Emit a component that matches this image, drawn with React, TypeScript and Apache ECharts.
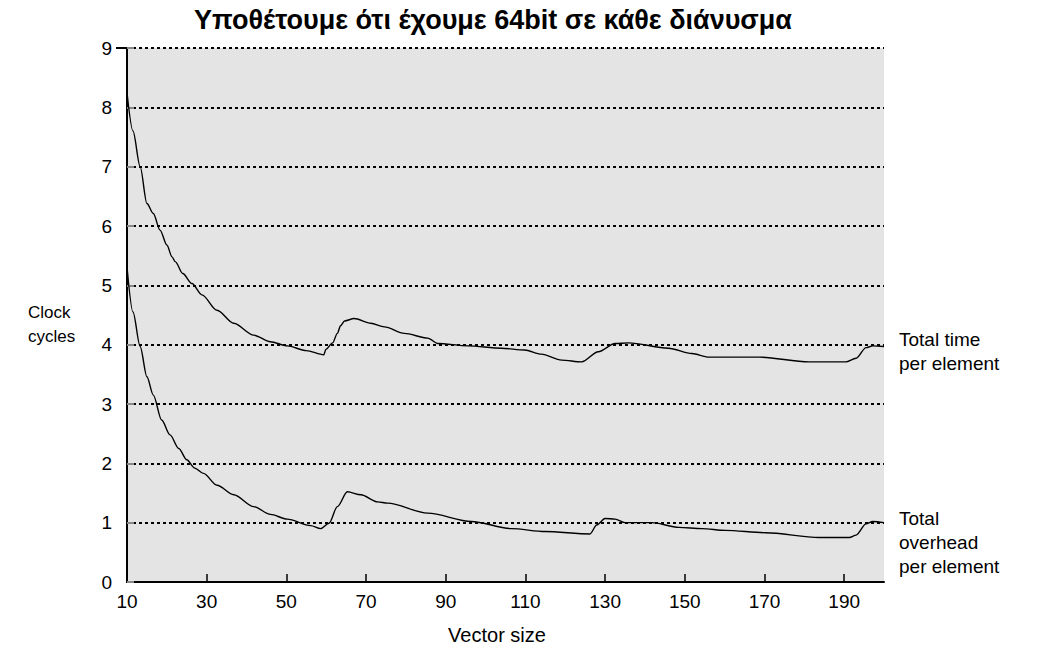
import React, { useEffect, useRef } from "react";
import * as echarts from "echarts";

const titleText = "Υποθέτουμε ότι έχουμε 64bit σε κάθε διάνυσμα";
const xName = "Vector size";
const yName = "Clock\ncycles";
const topLabel = "Total time\nper element";
const bottomLabel = "Total\noverhead\nper element";

const xLabelValues = [10, 30, 50, 70, 90, 110, 130, 150, 170, 190];
const xTickValues = [30, 50, 70, 90, 110, 130, 150, 170, 190];

const totalTime: [number, number][] = [
  [10, 8.25], [11.5, 7.6], [13.3, 7.0], [15.0, 6.38], [16.6, 6.21], [18.3, 5.93],
  [20, 5.68], [21.3, 5.48], [22.1, 5.4], [24, 5.2], [26.3, 5.03], [28.8, 4.84],
  [32.6, 4.58], [36.8, 4.36], [41.8, 4.16], [46, 4.05], [50.2, 3.98], [55, 3.9],
  [59.4, 3.83], [59.9, 3.92], [61.6, 4.03], [62.8, 4.19], [63.6, 4.32], [64.6, 4.4],
  [67, 4.44], [71.2, 4.36], [74.6, 4.3], [79.6, 4.19], [85.5, 4.11], [88, 4.02],
  [95.6, 3.98], [104, 3.94], [109.8, 3.91], [114, 3.84], [119.1, 3.74], [124.1, 3.71],
  [128.3, 3.88], [132.5, 4.02], [135.9, 4.03], [145.9, 3.94], [151.8, 3.85], [156, 3.79],
  [168.6, 3.79], [181.2, 3.71], [190.4, 3.71], [193, 3.77], [195.5, 3.95], [197.2, 3.98],
  [200, 3.97],
];

const totalOverhead: [number, number][] = [
  [10, 5.31], [11.5, 4.55], [13.3, 3.97], [15, 3.46], [16.6, 3.15], [18.7, 2.73],
  [20.8, 2.48], [23, 2.25], [25, 2.06], [27, 1.92], [29.2, 1.83], [32.6, 1.63],
  [36.8, 1.47], [41.8, 1.27], [46, 1.14], [50.2, 1.06], [56.1, 0.95], [58.6, 0.9],
  [60.7, 0.99], [62.8, 1.27], [65.3, 1.52], [68.7, 1.47], [72.9, 1.35], [75.4, 1.33],
  [85.5, 1.16], [96.4, 1.02], [106.5, 0.9], [114.9, 0.85], [126.2, 0.81], [127.9, 0.96],
  [130, 1.07], [132.5, 1.06], [135, 1.0], [141.7, 1.0], [148.5, 0.92], [154.3, 0.9],
  [160.2, 0.87], [170.3, 0.83], [183.7, 0.75], [191.3, 0.75], [193, 0.79], [195.5, 0.98],
  [197.2, 1.02], [200, 1.0],
];

const FONT = '"Liberation Sans", Arial, Helvetica, sans-serif';

export default function App() {
  const ref = useRef<HTMLDivElement>(null);
  useEffect(() => {
    if (!ref.current) return;
    const chart = echarts.init(ref.current, null, { renderer: "svg" });
    const lineStyle = { color: "#000", width: 1.4 };
    chart.setOption({
      animation: false,
      backgroundColor: "#fff",
      textStyle: { fontFamily: FONT },
      grid: {
        left: 127,
        right: 156,
        top: 48,
        bottom: 81,
        show: true,
        backgroundColor: "#e4e4e4",
        borderWidth: 0,
      },
      xAxis: {
        type: "value",
        min: 10,
        max: 200,
        interval: 20,
        axisLine: { show: true, onZero: false, lineStyle: { color: "#000", width: 2 } },
        axisTick: {
          show: true,
          inside: true,
          length: 8,
          customValues: xTickValues,
          lineStyle: { color: "#000", width: 1.5 },
        },
        axisLabel: {
          customValues: xLabelValues,
          fontSize: 19,
          color: "#000",
          margin: 10,
          fontFamily: FONT,
        },
        splitLine: { show: false },
      },
      yAxis: {
        type: "value",
        min: 0,
        max: 9,
        interval: 1,
        axisLine: { show: true, lineStyle: { color: "#000", width: 2 } },
        axisTick: { show: true, inside: true, length: 7, lineStyle: { color: "#888", width: 2 } },
        axisLabel: { fontSize: 19, color: "#000", margin: 15, fontFamily: FONT },
        splitLine: { show: true, lineStyle: { color: "#000", width: 2, type: [3, 3] } },
      },
      series: [
        {
          type: "line",
          data: totalTime,
          showSymbol: false,
          smooth: 0.3,
          smoothMonotone: "x",
          lineStyle,
          z: 5,
        },
        {
          type: "line",
          data: totalOverhead,
          showSymbol: false,
          smooth: 0.3,
          smoothMonotone: "x",
          lineStyle,
          z: 5,
        },
      ],
      graphic: [
        {
          type: "text",
          x: 493,
          y: 6,
          style: {
            text: titleText,
            fontSize: 27,
            fontWeight: "bold",
            fontFamily: FONT,
            fill: "#000",
            align: "center",
            verticalAlign: "top",
          },
        },
        {
          type: "text",
          x: 28,
          y: 300,
          style: { text: yName, fontSize: 17, lineHeight: 24, fontFamily: FONT, fill: "#000" },
        },
        {
          type: "text",
          x: 497,
          y: 625,
          style: {
            text: xName,
            fontSize: 20,
            fontFamily: FONT,
            fill: "#000",
            align: "center",
            verticalAlign: "top",
          },
        },
        {
          type: "text",
          x: 899,
          y: 327,
          style: { text: topLabel, fontSize: 19, lineHeight: 24, fontFamily: FONT, fill: "#000" },
        },
        {
          type: "text",
          x: 899,
          y: 506,
          style: { text: bottomLabel, fontSize: 19, lineHeight: 24, fontFamily: FONT, fill: "#000" },
        },
        {
          type: "line",
          shape: { x1: 116, y1: 48, x2: 127, y2: 48 },
          style: { stroke: "#000", lineWidth: 2 },
        },
      ],
    });
    return () => chart.dispose();
  }, []);
  return (
    <div
      ref={ref}
      style={{ position: "absolute", left: 0, top: 0, width: 1040, height: 663 }}
    />
  );
}
